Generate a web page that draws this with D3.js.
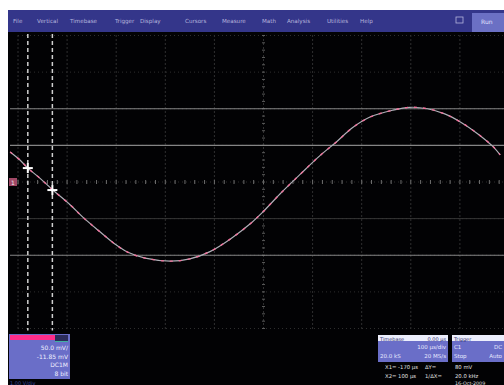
<!DOCTYPE html>
<html><head><meta charset="utf-8">
<script src="https://cdn.jsdelivr.net/npm/d3@7"></script>
<style>html,body{margin:0;padding:0;background:#fff;}svg{display:block;font-family:"DejaVu Sans",sans-serif;}</style>
</head><body>
<script>
// ---- data (time in µs, amplitude in mV; 100 µs/div, 50 mV/div) ----
const timeUs = [-516,-496,-480,-455,-429,-394,-368,-333,-302,-276,-241,-190,-150,-109,-68,-27,0,34,74,115,149,181,218,263,298,334,369,401,436,468,482];
const traceMv = [41,30,19,5,-11,-31,-48,-68,-85,-96,-104,-108,-105,-95,-78,-57,-40,-16,10,36,55,74,89,98,102,100,93,82,66,48,37];
const xTicks = [-500,-400,-300,-200,-100,0,100,200,300,400,500];
const yTicks = [-200,-150,-100,-50,0,50,100,150,200];
const brightLines = [100,50,-100];
const faintLines = [-50];
const cursorsUs = [-480,-430];
const cursorMv = [19,-11];
const menuItems = ["File","Vertical","Timebase","Trigger","Display","Cursors","Measure","Math","Analysis","Utilities","Help"];
const menuX = [13,37,70,115,140,185,222,262,287,327,360];
const chanRows = ["50.0 mV/","-11.85 mV","DC1M","8 bit"];
const tbHeader = ["Timebase","0.00 µs"];
const tbRows = [["","100 µs/div"],["20.0 kS","20 MS/s"]];
const trHeader = ["Trigger",""];
const trRows = [["C1","DC"],["Stop","Auto"]];
const readouts = [["X1= -170 µs","ΔY=","80 mV"],["X2= 100 µs","1/ΔX=","20.0 kHz"]];

const W=504,H=385;
const svg=d3.select("body").append("svg").attr("width",W).attr("height",H);
svg.append("rect").attr("width",W).attr("height",H).attr("fill","#fff");
// screen
svg.append("rect").attr("x",8).attr("y",32).attr("width",W-8).attr("height",H-32).attr("fill","#020204");

const x=d3.scaleLinear().domain([-500,500]).range([18,509]);
const y=d3.scaleLinear().domain([-200,200]).range([328.5,35.5]);

// grid
const g=svg.append("g");
g.selectAll(".vg").data(xTicks).join("line")
 .attr("x1",d=>x(d)).attr("x2",d=>x(d)).attr("y1",y(200)).attr("y2",y(-200))
 .attr("stroke","#5c5c5c").attr("stroke-width",1).attr("stroke-dasharray","1,3");
g.selectAll(".hg").data(yTicks).join("line")
 .attr("x1",x(-500)).attr("x2",W).attr("y1",d=>y(d)).attr("y2",d=>y(d))
 .attr("stroke","#2e2e2e").attr("stroke-width",1).attr("stroke-dasharray","1,3");
// center ticks
const minorX=d3.range(-500,501,20), minorY=d3.range(-200,201,10);
g.selectAll(".tx").data(minorX).join("line")
 .attr("x1",d=>x(d)).attr("x2",d=>x(d)).attr("y1",y(0)-2).attr("y2",y(0)+2)
 .attr("stroke","#6e6e6e").attr("stroke-width",1);
g.selectAll(".ty").data(minorY).join("line")
 .attr("x1",x(0)-1.5).attr("x2",x(0)+1.5).attr("y1",d=>y(d)).attr("y2",d=>y(d))
 .attr("stroke","#5a5a5a").attr("stroke-width",1);
// solid horizontal lines
g.selectAll(".bl").data(brightLines).join("line")
 .attr("x1",x(-500)-8).attr("x2",W).attr("y1",d=>y(d)).attr("y2",d=>y(d))
 .attr("stroke","#858585").attr("stroke-width",1.1);
g.selectAll(".fl").data(faintLines).join("line")
 .attr("x1",x(-500)).attr("x2",W).attr("y1",d=>y(d)).attr("y2",d=>y(d))
 .attr("stroke","#363636").attr("stroke-width",1);

// cursors
g.selectAll(".cur").data(cursorsUs).join("line")
 .attr("x1",d=>x(d)).attr("x2",d=>x(d)).attr("y1",34).attr("y2",y(-200)+2)
 .attr("stroke","#d0d0d0").attr("stroke-width",1.5).attr("stroke-dasharray","4,3");

// channel marker
svg.append("rect").attr("x",9).attr("y",y(0)-4).attr("width",8).attr("height",8).attr("fill","#a04866");
svg.append("text").attr("x",13).attr("y",y(0)+2.5).attr("text-anchor","middle").attr("font-size",6).attr("fill","#eee").text("1");

// trace
const pts=timeUs.map((t,i)=>[t,traceMv[i]]);
const line=d3.line().x(d=>x(d[0])).y(d=>y(d[1])).curve(d3.curveCatmullRom);
svg.append("path").attr("d",line(pts)).attr("fill","none").attr("stroke","#b0b0b8").attr("stroke-width",1.2);
svg.append("path").attr("d",line(pts)).attr("fill","none").attr("stroke","#f0709a").attr("stroke-width",1.4).attr("stroke-dasharray","3,6");

// cursor crosses
cursorsUs.forEach((t,i)=>{
  const cx=x(t), cy=y(cursorMv[i]);
  svg.append("line").attr("x1",cx-5).attr("x2",cx+5).attr("y1",cy).attr("y2",cy).attr("stroke","#fff").attr("stroke-width",2);
  svg.append("line").attr("x1",cx).attr("x2",cx).attr("y1",cy-5).attr("y2",cy+5).attr("stroke","#fff").attr("stroke-width",2);
});

// menu bar
svg.append("rect").attr("x",8).attr("y",10).attr("width",W-8).attr("height",22).attr("fill","#34368a");
svg.selectAll(".mi").data(menuItems).join("text")
 .attr("x",(d,i)=>menuX[i]).attr("y",23).attr("font-size",5.6).attr("fill","#b4b4dc").text(d=>d);
svg.append("rect").attr("x",456).attr("y",17).attr("width",7).attr("height",6).attr("fill","none").attr("stroke","#b4b4dc").attr("stroke-width",0.8);
svg.append("rect").attr("x",472).attr("y",13).attr("width",32).attr("height",19).attr("fill","#6b70c4");
svg.append("text").attr("x",481).attr("y",24).attr("font-size",6).attr("fill","#e0e0ff").text("Run");

// channel box
svg.append("rect").attr("x",9).attr("y",334).attr("width",61).attr("height",45).attr("fill","#6a6ec8");
svg.append("rect").attr("x",10).attr("y",335).attr("width",45).attr("height",5).attr("fill","#ff2d8a");
svg.append("rect").attr("x",55).attr("y",335).attr("width",13).attr("height",6).attr("fill","#2c2c5a");
svg.append("rect").attr("x",55).attr("y",341).attr("width",13).attr("height",1).attr("fill","#40b0a0");
svg.selectAll(".cr").data(chanRows).join("text")
 .attr("x",68).attr("y",(d,i)=>350+i*8.5).attr("text-anchor","end").attr("font-size",6).attr("fill","#f0f0ff").text(d=>d);
svg.append("text").attr("x",10).attr("y",384.5).attr("font-size",5).attr("fill","#3a4aa0").text("1.00 V/div");

// info boxes
function infoBox(x0,w,header,rows){
  svg.append("rect").attr("x",x0).attr("y",335).attr("width",w).attr("height",27).attr("fill","#6a6ec8");
  svg.append("rect").attr("x",x0).attr("y",335).attr("width",w).attr("height",6).attr("fill","#eceefc");
  svg.append("text").attr("x",x0+2).attr("y",340.5).attr("font-size",5).attr("fill","#303070").text(header[0]);
  svg.append("text").attr("x",x0+w-2).attr("y",340.5).attr("text-anchor","end").attr("font-size",5).attr("fill","#303070").text(header[1]);
  rows.forEach((r,i)=>{
    svg.append("text").attr("x",x0+2).attr("y",349+i*9).attr("font-size",5.5).attr("fill","#e8e8ff").text(r[0]);
    svg.append("text").attr("x",x0+w-2).attr("y",349+i*9).attr("text-anchor","end").attr("font-size",5.5).attr("fill","#e8e8ff").text(r[1]);
  });
}
infoBox(378,70,tbHeader,tbRows);
infoBox(452,52,trHeader,trRows);

// readouts
const rx=[385,425,455];
readouts.forEach((r,i)=>{
  r.forEach((t,j)=>{
    svg.append("text").attr("x",rx[j]).attr("y",369+i*8.5).attr("font-size",5.3).attr("fill","#e0e0e0").text(t);
  });
});
svg.append("text").attr("x",455).attr("y",384.5).attr("font-size",4.8).attr("fill","#e0e0e0").text("16-Oct-2009");
</script>
</body></html>
